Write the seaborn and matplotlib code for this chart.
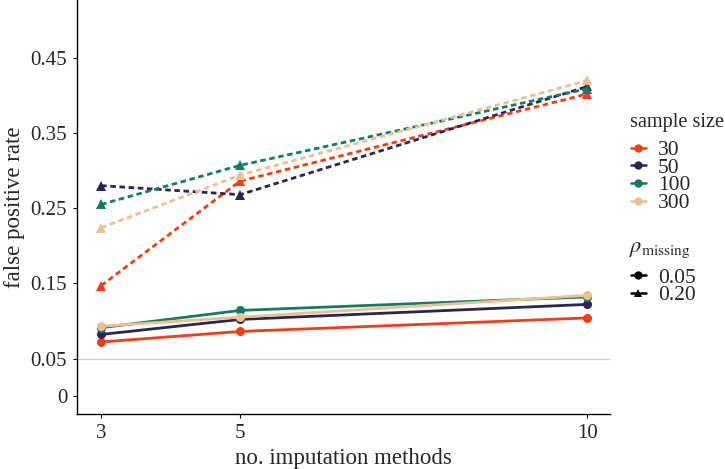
import pandas as pd
import seaborn as sns
import matplotlib.pyplot as plt
from matplotlib.lines import Line2D

# data
n_methods = [3, 5, 10]
sample_sizes = ['30', '50', '100', '300']
rho_levels = ['0.05', '0.20']

fpr_005 = {
    '30': [0.072, 0.086, 0.104],
    '50': [0.082, 0.102, 0.122],
    '100': [0.091, 0.114, 0.132],
    '300': [0.093, 0.105, 0.134],
}
fpr_020 = {
    '30': [0.147, 0.286, 0.402],
    '50': [0.280, 0.268, 0.412],
    '100': [0.255, 0.307, 0.409],
    '300': [0.224, 0.294, 0.420],
}

rows = []
for rho, table in zip(rho_levels, [fpr_005, fpr_020]):
    for n in sample_sizes:
        for m, v in zip(n_methods, table[n]):
            rows.append({'methods': m, 'fpr': v, 'n': n, 'rho': rho})
df = pd.DataFrame(rows)

colors = ['#F43D17', '#2E2450', '#137C64', '#EBC191']
palette = dict(zip(sample_sizes, colors))

sns.set_style('white')
plt.rcParams['font.family'] = ['Liberation Serif', 'DejaVu Serif']
plt.rcParams['mathtext.fontset'] = 'stix'

fig = plt.figure(figsize=(7.25, 4.69), dpi=100)
ax = fig.add_axes([0.106, 0.117, 0.735, 0.883])

ax.axhline(0.05, color='#cccccc', lw=1, zorder=0)

sns.lineplot(data=df, x='methods', y='fpr', hue='n', style='rho',
             hue_order=sample_sizes, style_order=rho_levels,
             palette=palette,
             markers={'0.05': 'o', '0.20': '^'},
             dashes={'0.05': '', '0.20': (2, 1.3)},
             markersize=6.5, markeredgewidth=0, lw=2,
             legend=False, ax=ax)

ax.set_xlim(2.65, 10.32)
ax.set_ylim(-0.024, 0.527)
ax.set_xticks(n_methods)
ax.set_yticks([0, 0.05, 0.15, 0.25, 0.35, 0.45])
ax.set_yticklabels(['0', '0.05', '0.15', '0.25', '0.35', '0.45'])
ax.tick_params(labelsize=15, length=3, width=0.8, color='black',
               left=True, bottom=True, pad=4)
ax.set_xlabel('no. imputation methods', fontsize=16.5)
ax.set_ylabel('false positive rate', fontsize=16.5)
for side in ['top', 'right']:
    ax.spines[side].set_visible(False)
for side in ['left', 'bottom']:
    ax.spines[side].set_color('black')
    ax.spines[side].set_linewidth(1)

leg_kw = dict(loc='upper left', frameon=False, fontsize=15.5,
              handlelength=0.7, labelspacing=-0.11, handletextpad=0.56,
              borderpad=0, borderaxespad=0)

# legend titles as separate texts, so the gap to the entries can be set
fig.text(630 / 725, 1 - 122.7 / 469, 'sample size', fontsize=14.6,
         ha='left', va='center')
size_handles = [Line2D([], [], color=c, marker='o', markersize=6, lw=1.8,
                       markeredgewidth=0) for c in colors]
leg1 = fig.legend(size_handles, sample_sizes,
                  bbox_to_anchor=(0.870, 1 - 140 / 469), **leg_kw)

fig.text(629 / 725, 1 - 250 / 469, r'$\rho_{\mathrm{missing}}$',
         fontsize=16, ha='left', va='center')
rho_handles = [Line2D([], [], color='black', marker=mk, markersize=6, lw=1.8,
                      markeredgewidth=0) for mk in ['o', '^']]
leg2 = fig.legend(rho_handles, rho_levels,
                  bbox_to_anchor=(0.870, 1 - 267.7 / 469), **leg_kw)

fig.savefig('out.png', dpi=100)
